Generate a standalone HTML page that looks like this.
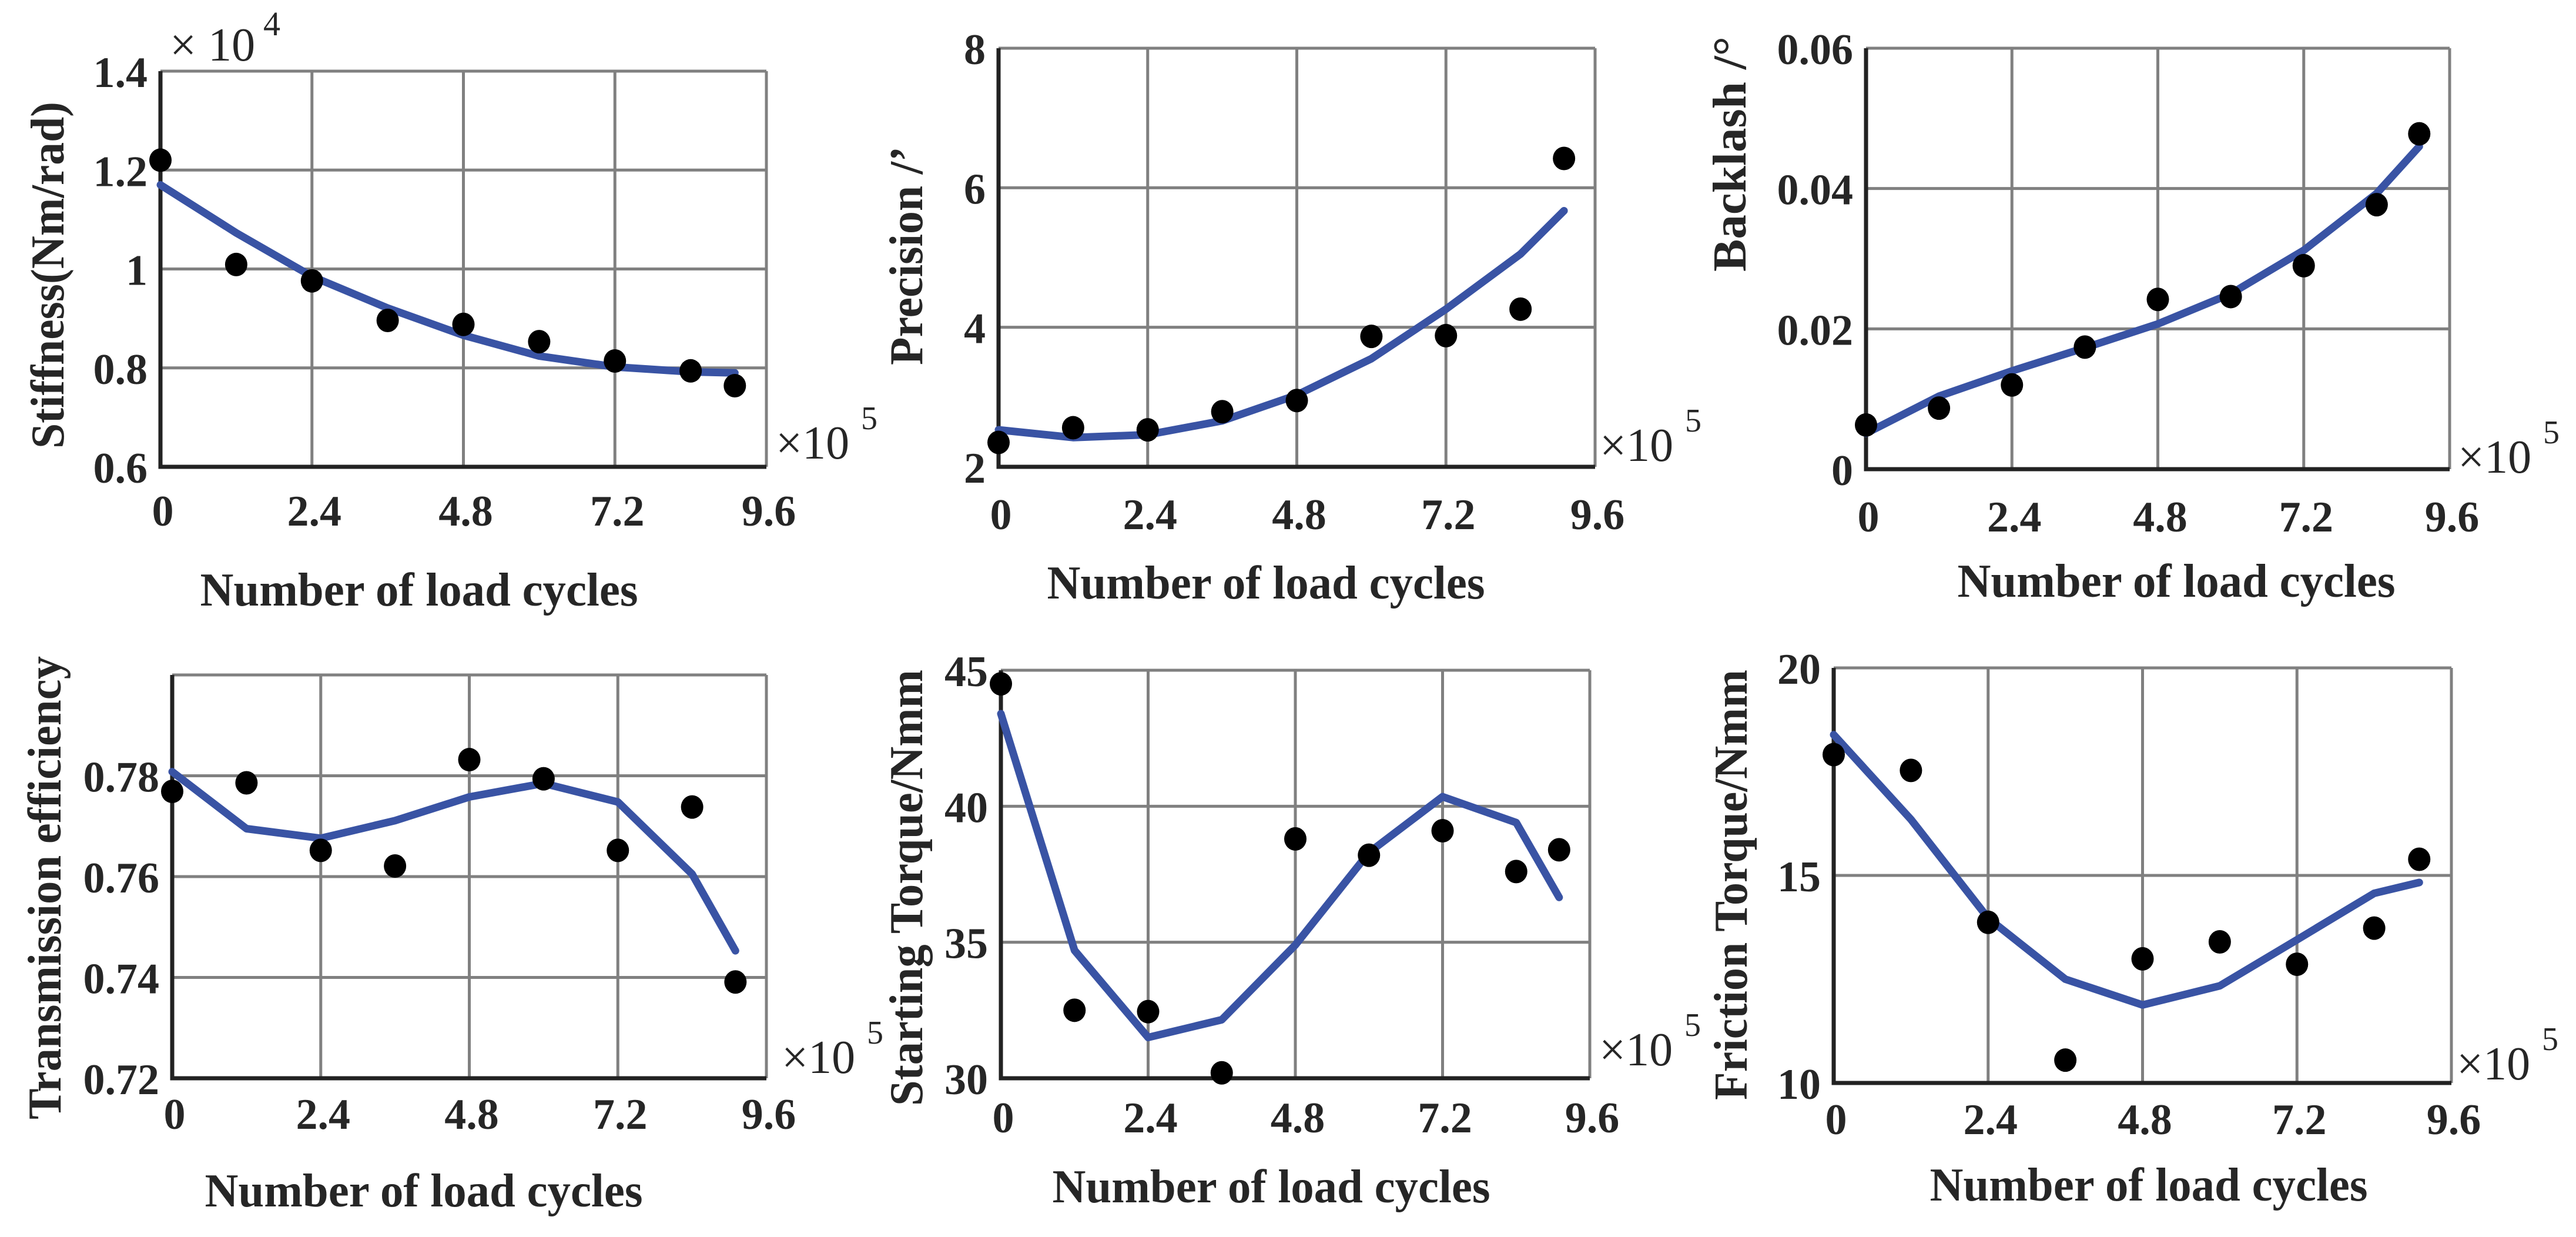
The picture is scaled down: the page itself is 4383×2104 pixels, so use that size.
<!DOCTYPE html>
<html><head><meta charset="utf-8"><style>
html,body{margin:0;padding:0;background:#fff;}
svg{display:block;}
</style></head><body>
<svg id="chart" width="4383" height="2104" viewBox="0 0 4383 2104" xmlns="http://www.w3.org/2000/svg"></svg>
<script>
const xTicks=[0,2.4,4.8,7.2,9.6];
const xTickLabels=["0","2.4","4.8","7.2","9.6"];
const cycles=[0,1.2,2.4,3.6,4.8,6.0,7.2,8.4,9.1];
const stiffPts=[1.22,1.009,0.976,0.896,0.888,0.853,0.814,0.794,0.764];
const stiffFit=[1.170,1.073,0.985,0.921,0.866,0.824,0.802,0.792,0.790];
const stiffTicks=[0.6,0.8,1.0,1.2,1.4];
const stiffTickLabels=["0.6","0.8","1","1.2","1.4"];
const precPts=[2.35,2.56,2.53,2.79,2.95,3.87,3.88,4.26,6.42];
const precFit=[2.53,2.42,2.46,2.66,3.03,3.55,4.26,5.05,5.67];
const precTicks=[2,4,6,8];
const precTickLabels=["2","4","6","8"];
const backPts=[0.0063,0.0087,0.012,0.0174,0.0242,0.0246,0.029,0.0377,0.0478];
const backFit=[0.0051,0.0104,0.0140,0.0173,0.0207,0.025,0.0312,0.0393,0.046];
const backTicks=[0,0.02,0.04,0.06];
const backTickLabels=["0","0.02","0.04","0.06"];
const effPts=[0.7769,0.7786,0.7652,0.7621,0.7832,0.7794,0.7652,0.7738,0.7391];
const effFit=[0.7808,0.7695,0.7676,0.7711,0.7758,0.7785,0.7748,0.7605,0.7453];
const effTicks=[0.72,0.74,0.76,0.78,0.80];
const effTickLabels=["0.72","0.74","0.76","0.78",""];
const startPts=[44.5,32.5,32.45,30.2,38.8,38.2,39.1,37.6,38.4];
const startFit=[43.4,34.7,31.5,32.15,34.9,38.3,40.35,39.4,36.65];
const startTicks=[30,35,40,45];
const startTickLabels=["30","35","40","45"];
const fricPts=[17.91,17.53,13.87,10.55,12.99,13.40,12.86,13.73,15.39];
const fricFit=[18.39,16.35,13.97,12.50,11.88,12.34,13.45,14.57,14.83];
const fricTicks=[10,15,20];
const fricTickLabels=["10","15","20"];

const NS="http://www.w3.org/2000/svg";
const svg=document.getElementById('chart');
function mk(tag,attrs,parent){const e=document.createElementNS(NS,tag);for(const k in attrs)e.setAttribute(k,attrs[k]);(parent||svg).appendChild(e);return e;}
const FONT='"Liberation Serif", serif';

function panel(cfg){
  const g=mk('g',{});
  
  
  const sx=v=>cfg.L+(v-0)/(9.6-0)*(cfg.R-cfg.L);
  const sy=v=>cfg.B-(v-cfg.ymin)/(cfg.ymax-cfg.ymin)*(cfg.B-cfg.T);
  cfg.yt.forEach((v,i)=>{
    const y=sy(v);
    const l=mk('line',{x1:cfg.L,x2:cfg.R,y1:y,y2:y,stroke:'#808080','stroke-width':5},g);
    
    
    if(cfg.ytl[i]!==""){
      const t=mk('text',{x:cfg.L-22,y:y+27,'text-anchor':'end','font-family':FONT,'font-weight':'bold','font-size':74,fill:'#262626'},g);
      t.textContent=cfg.ytl[i];
      
      
    }
  });
  xTicks.forEach((v,i)=>{
    const x=sx(v);
    const l=mk('line',{x1:x,x2:x,y1:cfg.T,y2:cfg.B,stroke:'#808080','stroke-width':5},g);
    
    
    const t=mk('text',{x:x+4,y:cfg.B+cfg.xo,'text-anchor':'middle','font-family':FONT,'font-weight':'bold','font-size':74,fill:'#262626'},g);
    t.textContent=xTickLabels[i];
    
    
  });
  const ax=mk('path',{d:`M${cfg.L},${cfg.T} L${cfg.L},${cfg.B} L${cfg.R},${cfg.B}`,stroke:'#222','stroke-width':7,fill:'none'},g);
  
  
  const d=cfg.fit.map((v,i)=>(i?'L':'M')+sx(cycles[i]).toFixed(1)+','+sy(v).toFixed(1)).join(' ');
  const ln=mk('path',{d:d,stroke:'#3953a4','stroke-width':13,fill:'none','stroke-linejoin':'round','stroke-linecap':'round'},g);
  
  
  cfg.pts.forEach((v,i)=>{
    const c=mk('ellipse',{cx:sx(cycles[i]),cy:sy(v),rx:19,ry:20,fill:'#000'},g);
    
    
  });
  const yl=mk('text',{x:0,y:0,transform:`translate(${cfg.ylx},${cfg.yly}) rotate(-90)`,'text-anchor':'middle','dominant-baseline':'central','font-family':FONT,'font-weight':'bold','font-size':80,fill:'#262626',textLength:cfg.ylen,lengthAdjust:'spacingAndGlyphs'},g);
  yl.textContent=cfg.ylabel;
  
  
  const xl=mk('text',{x:cfg.xlx,y:cfg.xly,'text-anchor':'middle','font-family':FONT,'font-weight':'bold','font-size':80,fill:'#262626',textLength:745,lengthAdjust:'spacingAndGlyphs'},g);
  xl.textContent='Number of load cycles';
  
  
  const m=mk('text',{x:cfg.mx,y:cfg.my,'font-family':FONT,'font-size':80,fill:'#262626'},g);
  m.textContent='×10';
  
  
  const s=mk('text',{x:cfg.mx+145,y:cfg.my-50,'font-family':FONT,'font-size':56,fill:'#262626'},g);
  s.textContent='5';
  
  
}

panel({id:'stiffness',L:273,R:1304,T:121,B:794,ymin:0.6,ymax:1.4,yt:stiffTicks,ytl:stiffTickLabels,pts:stiffPts,fit:stiffFit,xo:100,
  ylabel:'Stiffness(Nm/rad)',ylx:82,yly:468,ylen:590,xlx:713,xly:1030,mx:1320,my:780});
panel({id:'precision',L:1699,R:2714,T:82,B:794,ymin:2,ymax:8,yt:precTicks,ytl:precTickLabels,pts:precPts,fit:precFit,xo:106,
  ylabel:'Precision /’',ylx:1543,yly:435,ylen:372,xlx:2154,xly:1018,mx:2722,my:784});
panel({id:'backlash',L:3175,R:4168,T:82,B:798,ymin:0,ymax:0.06,yt:backTicks,ytl:backTickLabels,pts:backPts,fit:backFit,xo:106,
  ylabel:'Backlash /°',ylx:2944,yly:262,ylen:400,xlx:3703,xly:1015,mx:4182,my:804});
panel({id:'efficiency',L:293,R:1304,T:1148,B:1834,ymin:0.72,ymax:0.80,yt:effTicks,ytl:effTickLabels,pts:effPts,fit:effFit,xo:86,
  ylabel:'Transmission efficiency',ylx:77,yly:1510,ylen:788,xlx:721,xly:2052,mx:1330,my:1825});
panel({id:'starting-torque',L:1703,R:2705,T:1140,B:1834,ymin:30,ymax:45,yt:startTicks,ytl:startTickLabels,pts:startPts,fit:startFit,xo:92,
  ylabel:'Starting Torque/Nmm',ylx:1543,yly:1510,ylen:742,xlx:2163,xly:2045,mx:2721,my:1812});
panel({id:'friction-torque',L:3120,R:4171,T:1136,B:1842,ymin:10,ymax:20,yt:fricTicks,ytl:fricTickLabels,pts:fricPts,fit:fricFit,xo:87,
  ylabel:'Friction Torque/Nmm',ylx:2946,yly:1505,ylen:732,xlx:3656,xly:2042,mx:4180,my:1836});

const yx=mk('text',{x:289,y:103,'font-family':FONT,'font-size':80,fill:'#262626'});
yx.textContent='×  10';


const ye=mk('text',{x:448,y:60,'font-family':FONT,'font-size':58,fill:'#262626'});
ye.textContent='4';


</script>
</body></html>
